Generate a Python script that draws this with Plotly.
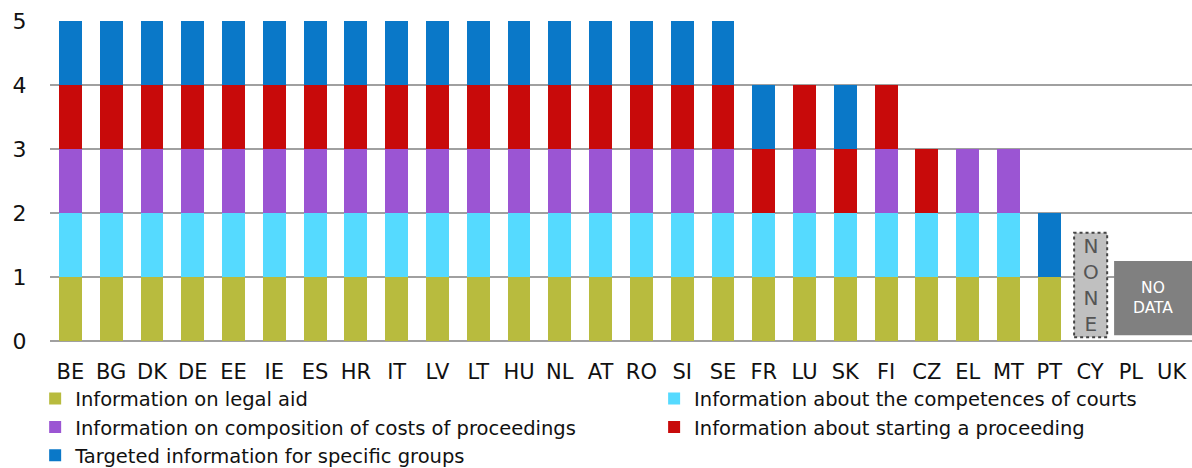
import plotly.graph_objects as go

countries = ["BE", "BG", "DK", "DE", "EE", "IE", "ES", "HR", "IT", "LV", "LT", "HU", "NL", "AT",
             "RO", "SI", "SE", "FR", "LU", "SK", "FI", "CZ", "EL", "MT", "PT", "CY", "PL", "UK"]

# 1 = information available online, 0 = not available
legal_aid =   [1] * 17 + [1, 1, 1, 1, 1, 1, 1, 1, 0, 0, 0]
competences = [1] * 17 + [1, 1, 1, 1, 1, 1, 1, 0, 0, 0, 0]
costs =       [1] * 17 + [0, 1, 0, 1, 0, 1, 1, 0, 0, 0, 0]
starting =    [1] * 17 + [1, 1, 1, 1, 1, 0, 0, 0, 0, 0, 0]
targeted =    [1] * 17 + [1, 0, 1, 0, 0, 0, 0, 1, 0, 0, 0]

series = [
    ("Information on legal aid", legal_aid, "#B8BB3E", "legend"),
    ("Information about the competences of courts", competences, "#55DAFF", "legend2"),
    ("Information on composition of costs of proceedings", costs, "#9B55D3", "legend"),
    ("Information about starting a proceeding", starting, "#C80A0A", "legend2"),
    ("Targeted information for specific groups", targeted, "#0A78C8", "legend"),
]

FONT = "DejaVu Sans, Liberation Sans, sans-serif"

fig = go.Figure()
for i, (name, vals, color, leg) in enumerate(series):
    fig.add_trace(go.Bar(
        x=countries, y=vals, name=name, marker_color=color,
        marker_line_width=0, legend=leg, legendgroup=str(i),
    ))

# CY: none
fig.add_shape(type="rect", xref="x", yref="y", x0=24.61, x1=25.42, y0=0.06, y1=1.69,
              fillcolor="#C0C0C0", line=dict(color="#444444", width=2, dash="dot"))
fig.add_annotation(x=25.015, y=0.875, xref="x", yref="y", text="N<br>O<br>N<br>E",
                   showarrow=False, font=dict(family=FONT, size=20, color="#555555"))
# PL, UK: no data
fig.add_shape(type="rect", xref="x", yref="y", x0=25.59, x1=27.5, y0=0.09, y1=1.25,
              fillcolor="#808080", line=dict(width=0))
fig.add_annotation(x=26.55, y=0.67, xref="x", yref="y", text="NO<br>DATA",
                   showarrow=False, font=dict(family=FONT, size=15.5, color="white"))

fig.update_layout(
    width=1192, height=468,
    barmode="stack", bargap=0.44,
    plot_bgcolor="white", paper_bgcolor="white",
    font=dict(family=FONT, size=20, color="#111111"),
    margin=dict(l=50, r=0, t=21, b=127, autoexpand=False),
    legend=dict(x=-0.013, xanchor="left", y=-0.12, yanchor="top",
                orientation="v", tracegroupgap=0, font=dict(size=19.5)),
    legend2=dict(x=0.529, xanchor="left", y=-0.12, yanchor="top",
                 orientation="v", tracegroupgap=0, font=dict(size=19.5)),
    showlegend=True,
)
fig.update_xaxes(showgrid=False, showline=False, ticks="outside", ticklen=12,
                 tickcolor="rgba(0,0,0,0)", tickfont=dict(size=21), automargin=False)
fig.update_yaxes(range=[0, 5], dtick=1, showgrid=True, gridcolor="#A0A0A0", gridwidth=2,
                 zeroline=True, zerolinecolor="#A0A0A0", zerolinewidth=2,
                 ticks="outside", ticklen=18, tickcolor="rgba(0,0,0,0)",
                 tickfont=dict(size=22), automargin=False)

fig.write_html("out.html", config={"displayModeBar": False},
               post_script="document.body.style.margin='0';")
